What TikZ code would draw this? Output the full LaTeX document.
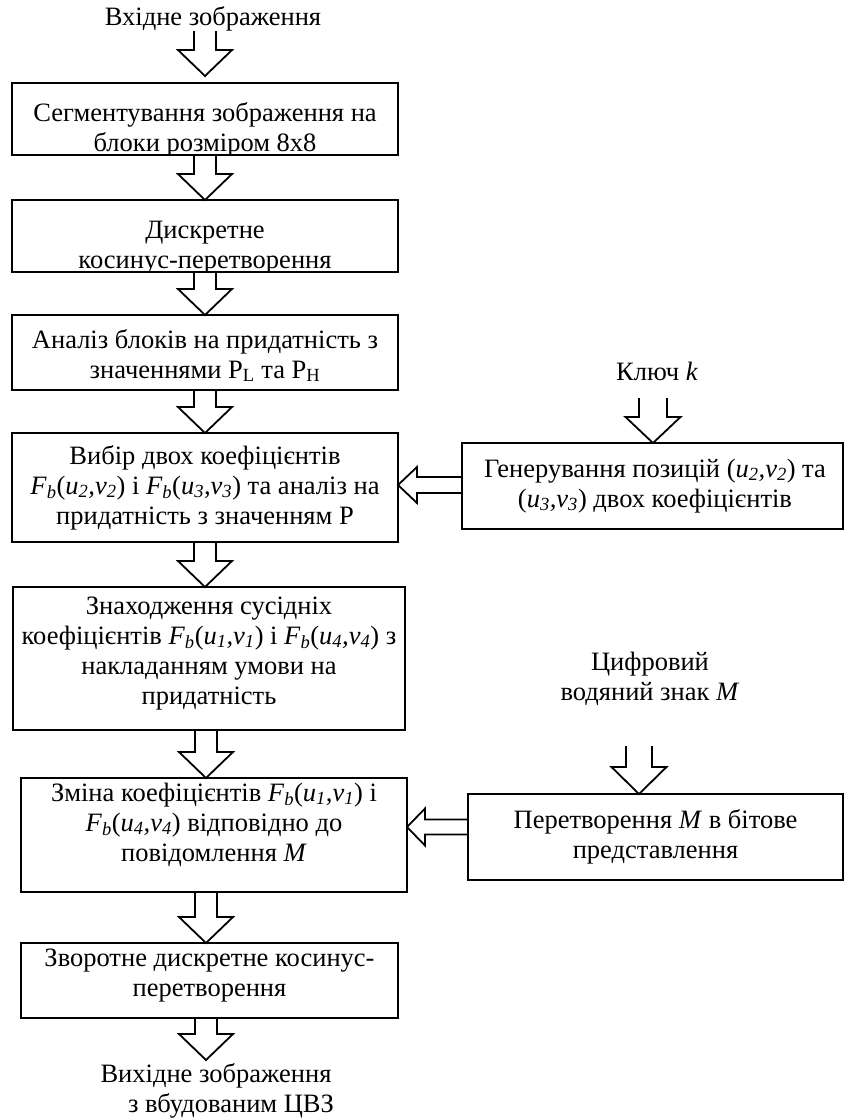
\documentclass[tikz,border=0pt]{standalone}
\usepackage{fontspec}
\setmainfont{Liberation Serif}
\usetikzlibrary{calc}
\newcommand{\fs}{\fontsize{26.5pt}{30pt}\selectfont}
\newcommand{\sbi}[1]{\textsubscript{\textit{#1}}}
\newcommand{\Fb}[2]{\textit{F}\sbi{b}(\textit{u}\sbi{#1}\textit{,v}\sbi{#2})}
\newcommand{\uv}[2]{(\textit{u}\sbi{#1}\textit{,v}\sbi{#2})}
% vertical block arrow: x, from, to, shaft half, head half, head length
\newcommand{\downblk}[6]{%
  \draw[blk] let \p1=(#2), \p2=(#3), \p3=(#1,0) in
    (\x3-#4,\y1) -- (\x3-#4,\y2+#6) -- (\x3-#5,\y2+#6) -- (\x3,\y2)
    -- (\x3+#5,\y2+#6) -- (\x3+#4,\y2+#6) -- (\x3+#4,\y1);}
% horizontal block arrow pointing left: y, from, to, shaft half, head half, head length
\newcommand{\leftblk}[6]{%
  \draw[blk] let \p1=(#2), \p2=(#3), \p3=(0,#1) in
    (\x1,\y3+#4) -- (\x2+#6,\y3+#4) -- (\x2+#6,\y3+#5) -- (\x2,\y3)
    -- (\x2+#6,\y3-#5) -- (\x2+#6,\y3-#4) -- (\x1,\y3-#4);}
\begin{document}
\begin{tikzpicture}[x=1pt,y=-1pt,
  box/.style={draw, line width=1.8pt, inner sep=0, outer sep=0},
  blk/.style={draw, line width=1.8pt, line join=miter},
  txt/.style={align=center, inner sep=0, font=\fs, anchor=base}]
\useasboundingbox (0,0) rectangle (845,1120);
% boxes
\node[box, minimum width=386pt, minimum height=72pt] (b1) at (205,119) {};
\node[box, minimum width=386pt, minimum height=72pt] (b2) at (205,236) {};
\node[box, minimum width=386pt, minimum height=75pt] (b3) at (205,352.5) {};
\node[box, minimum width=386pt, minimum height=109pt] (b4) at (205,487.5) {};
\node[box, minimum width=392pt, minimum height=143pt] (b5) at (209,658.5) {};
\node[box, minimum width=386pt, minimum height=114pt] (b6) at (214,835) {};
\node[box, minimum width=377pt, minimum height=75pt] (b7) at (209.5,980.5) {};
\node[box, minimum width=381pt, minimum height=86pt] (r1) at (652.5,486) {};
\node[box, minimum width=375pt, minimum height=86pt] (r2) at (655.5,837) {};
% texts (anchor = baseline of the last line)
\node[txt] (tin) at (213,25) {Вхідне зображення};
\begin{scope}
\clip (12,83) rectangle (398,155);
\node[txt] (t1) at (205,151) {Сегментування зображення на\\блоки розміром 8x8};
\end{scope}
\begin{scope}
\clip (12,200) rectangle (398,272);
\node[txt] (t2) at (205,268) {Дискретне\\косинус-перетворення};
\end{scope}
\node[txt] (t3) at (205,378) {Аналіз блоків на придатність з\\значеннями P\textsubscript{L} та P\textsubscript{H}};
\node[txt] (t4) at (205,524) {Вибір двох коефіцієнтів\\\Fb{2}{2} і \Fb{3}{3} та аналіз на\\придатність з значенням P};
\node[txt] (t5) at (209,704) {Знаходження сусідніх\\коефіцієнтів \Fb{1}{1} і \Fb{4}{4} з\\накладанням умови на\\придатність};
\node[txt] (t6) at (214,861) {Зміна коефіцієнтів \Fb{1}{1} і\\\Fb{4}{4} відповідно до\\повідомлення \textit{M}};
\node[txt] (t7) at (209.5,996) {Зворотне дискретне косинус-\\перетворення};
\node[txt] (tr1) at (655,507) {Генерування позицій \uv{2}{2} та\\\uv{3}{3} двох коефіцієнтів};
\node[txt] (tr2) at (655.5,858) {Перетворення \textit{M} в бітове\\представлення};
\node[txt] (tkey) at (657,380) {Ключ \textit{k}};
\node[txt] (twm) at (650,700) {Цифровий\\водяний знак \textit{M}};
\node[txt] (tout) at (216,1112) {Вихідне зображення\\\hspace*{30pt}з вбудованим ЦВЗ};
% arrow end points
\coordinate (a1s) at (205,31);
\coordinate (a1e) at (205,76);
\coordinate (aks) at (653,398);
\coordinate (ams) at (639,746);
\coordinate (a8e) at (206,1060);
% vertical arrows
\downblk{205}{a1s}{a1e}{11pt}{27pt}{26pt}
\downblk{205}{b1.south}{b2.north}{11pt}{27pt}{26pt}
\downblk{205}{b2.south}{b3.north}{11pt}{27pt}{26pt}
\downblk{205}{b3.south}{b4.north}{11pt}{27pt}{26pt}
\downblk{205}{b4.south}{b5.north}{11pt}{27pt}{26pt}
\downblk{206}{b5.south}{b6.north}{11pt}{27pt}{26pt}
\downblk{206}{b6.south}{b7.north}{11pt}{27pt}{26pt}
\downblk{206}{b7.south}{a8e}{11pt}{27pt}{26pt}
\downblk{653}{aks}{r1.north}{14pt}{27.5pt}{26pt}
\downblk{639}{ams}{r2.north}{13pt}{27.5pt}{27pt}
% horizontal arrows
\leftblk{485}{r1.west}{b4.east}{8pt}{18pt}{19pt}
\leftblk{827}{r2.west}{b6.east}{7.5pt}{18.5pt}{18pt}
\end{tikzpicture}
\end{document}
